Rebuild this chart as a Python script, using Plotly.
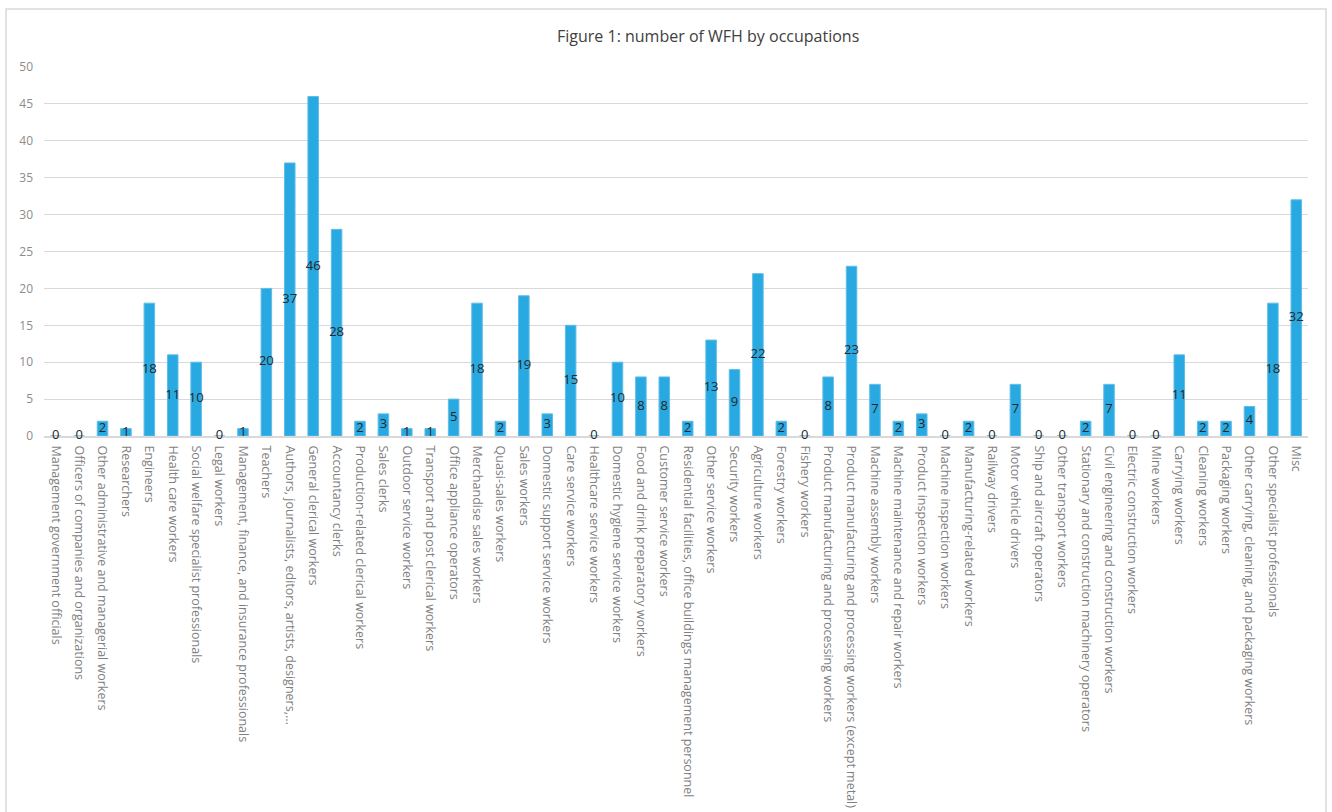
import plotly.graph_objects as go

categories = [
    "Management government officials",
    "Officers of companies and organizations",
    "Other administrative and managerial workers",
    "Researchers",
    "Engineers",
    "Health care workers",
    "Social welfare specialist professionals",
    "Legal workers",
    "Management, finance, and insurance professionals",
    "Teachers",
    "Authors, journalists, editors, artists, designers,...",
    "General clerical workers",
    "Accountancy clerks",
    "Production-related clerical workers",
    "Sales clerks",
    "Outdoor service workers",
    "Transport and post clerical workers",
    "Office appliance operators",
    "Merchandise sales workers",
    "Quasi-sales workers",
    "Sales workers",
    "Domestic support service workers",
    "Care service workers",
    "Healthcare service workers",
    "Domestic hygiene service workers",
    "Food and drink preparatory workers",
    "Customer service workers",
    "Residential facilities, office buildings management personnel",
    "Other service workers",
    "Security workers",
    "Agriculture workers",
    "Forestry workers",
    "Fishery workers",
    "Product manufacturing and processing workers",
    "Product manufacturing and processing workers (except metal)",
    "Machine assembly workers",
    "Machine maintenance and repair workers",
    "Product inspection workers",
    "Machine inspection workers",
    "Manufacturing-related workers",
    "Railway drivers",
    "Motor vehicle drivers",
    "Ship and aircraft operators",
    "Other transport workers",
    "Stationary and construction machinery operators",
    "Civil engineering and construction workers",
    "Electric construction workers",
    "Mine workers",
    "Carrying workers",
    "Cleaning workers",
    "Packaging workers",
    "Other carrying, cleaning, and packaging workers",
    "Other specialist professionals",
    "Misc",
]

values = [0, 0, 2, 1, 18, 11, 10, 0, 1, 20, 37, 46, 28, 2, 3, 1, 1, 5, 18, 2,
          19, 3, 15, 0, 10, 8, 8, 2, 13, 9, 22, 2, 0, 8, 23, 7, 2, 3, 0, 2,
          0, 7, 0, 0, 2, 7, 0, 0, 11, 2, 2, 4, 18, 32]

y_ticks = [0, 5, 10, 15, 20, 25, 30, 35, 40, 45, 50]

title_text = "Figure 1: number of WFH by occupations"

FONT = "Open Sans, Calibri, sans-serif"

fig = go.Figure()
fig.add_trace(go.Bar(
    x=categories, y=values,
    marker=dict(color="#29A9E1", line=dict(color="#5FBDE8", width=1)),
    hoverinfo="x+y",
))
fig.add_trace(go.Scatter(
    x=categories, y=[v / 2 for v in values],
    mode="text", text=[str(v) for v in values],
    textposition="middle center",
    textfont=dict(family=FONT, size=13, color="#262626"),
    hoverinfo="skip", cliponaxis=False,
))

W, H = 1332, 812
L, R, T, B = 44, 24, 67, 376
pw = W - L - R
ph = H - T - B

def px_x(p):
    return (p - L) / pw

def px_y(p):
    return (H - B - p) / ph

fig.update_layout(
    width=W, height=H,
    margin=dict(l=L, r=R, t=T, b=B),
    paper_bgcolor="white", plot_bgcolor="white",
    showlegend=False,
    bargap=0.55,
    font=dict(family=FONT, color="#7f7f7f"),
    xaxis=dict(
        type="category", tickangle=90,
        range=[-0.5, len(categories) - 0.5],
        tickfont=dict(family=FONT, size=12.5, color="#7f7f7f"),
        showgrid=False, showline=True, linecolor="#d9d9d9", linewidth=2,
        ticks="", automargin=False, ticklabelstandoff=5,
        layer="below traces",
    ),
    yaxis=dict(
        range=[0, 50], tickvals=y_ticks,
        tickfont=dict(family=FONT, size=12, color="#8c8c8c"),
        showgrid=True, gridcolor="#d9d9d9", gridwidth=1,
        zeroline=False, showline=False, ticks="",
        ticklabelstandoff=10, automargin=False,
        layer="below traces",
    ),
    annotations=[dict(
        text=title_text, xref="paper", yref="paper",
        x=px_x(708), y=px_y(36), xanchor="center", yanchor="middle",
        showarrow=False,
        font=dict(family=FONT, size=16, color="#404040"),
    )],
    shapes=[dict(
        type="rect", xref="paper", yref="paper",
        x0=px_x(6), x1=px_x(1326), y0=px_y(830), y1=px_y(9),
        line=dict(color="#d9d9d9", width=1.5), fillcolor="rgba(0,0,0,0)",
        layer="below",
    )],
)

fig.write_html("out.html")
